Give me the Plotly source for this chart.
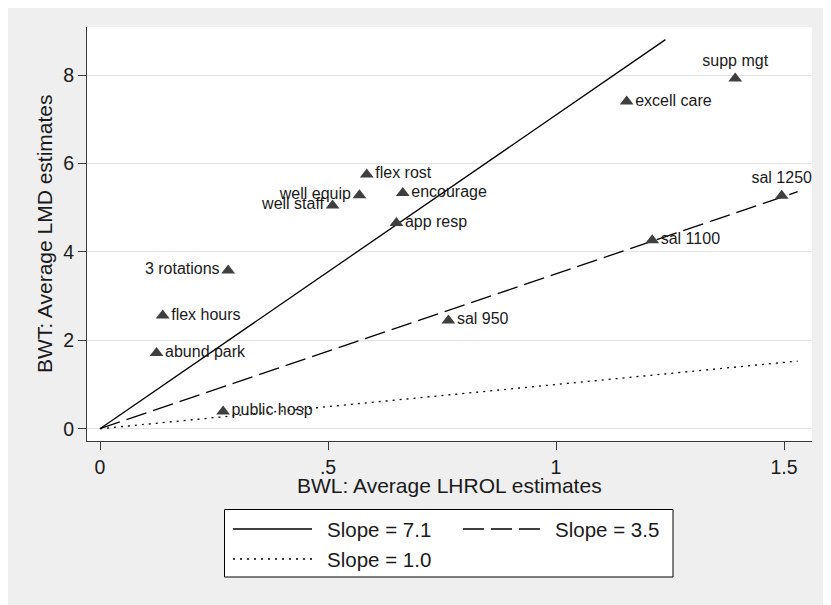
import plotly.graph_objects as go

# ---- data ----
labels = ["supp mgt", "excell care", "sal 1250", "sal 1100", "app resp", "encourage",
          "flex rost", "well equip", "well staff", "3 rotations", "flex hours",
          "abund park", "public hosp", "sal 950"]
bwl = [1.393, 1.155, 1.495, 1.211, 0.650, 0.664, 0.585, 0.569, 0.510, 0.281,
       0.1375, 0.124, 0.270, 0.764]
bwt = [7.92, 7.40, 5.27, 4.26, 4.65, 5.33, 5.75, 5.28, 5.05, 3.58, 2.56, 1.71, 0.39, 2.45]
label_pos = ["top center", "middle right", "top center", "middle right", "middle right",
             "middle right", "middle right", "middle left", "middle left", "middle left",
             "middle right", "middle right", "middle right", "middle right"]

line_names = ["Slope = 7.1", "Slope = 3.5", "Slope = 1.0"]
line_x = [[0, 1.24], [0, 1.53], [0, 1.53]]
line_y = [[0, 8.80], [0, 5.36], [0, 1.53]]
line_dash = ["solid", "21px,7px", "2px,5px"]

x_ticks = [0, 0.5, 1, 1.5]
x_ticktext = ["0", ".5", "1", "1.5"]
y_ticks = [0, 2, 4, 6, 8]

# ---- layout geometry (page pixels; the page body adds an 8px offset) ----
W, H = 823, 599
OX, OY = 8, 8
L, R, T, B = 87, 812, 27, 441
FONT = "Liberation Sans, Arial, Helvetica, sans-serif"


def px_x(px):
    return (px - L) / (R - L)


def px_y(py):
    return (B - py) / (B - T)


fig = go.Figure()

for nm, xs, ys, d in zip(line_names, line_x, line_y, line_dash):
    fig.add_trace(go.Scatter(x=xs, y=ys, mode="lines", name=nm, showlegend=False,
                             line=dict(color="black", width=1.3, dash=d),
                             hoverinfo="skip"))

fig.add_trace(go.Scatter(x=bwl, y=bwt, mode="markers+text", text=labels,
                         textposition=label_pos, showlegend=False,
                         marker=dict(symbol="triangle-up", size=12, color="#3f3f3f"),
                         textfont=dict(family=FONT, size=16, color="#1a1a1a")))

shapes = []
# legend box
shapes.append(dict(type="rect", xref="paper", yref="paper", x0=px_x(224.5), x1=px_x(673),
                   y0=px_y(577), y1=px_y(509.5), fillcolor="white",
                   line=dict(color="black", width=1)))
leg_items = [(233, 312, 529, 325), (463, 542, 529, 553), (233, 312, 559, 325)]
annotations = []
for (x0, x1, yy, tx), nm, d in zip(leg_items, line_names, line_dash):
    shapes.append(dict(type="line", xref="paper", yref="paper", x0=px_x(x0), x1=px_x(x1),
                       y0=px_y(yy), y1=px_y(yy), line=dict(color="black", width=1.3, dash=d)))
    annotations.append(dict(xref="paper", yref="paper", x=px_x(tx), y=px_y(yy), text=nm,
                            showarrow=False, xanchor="left", yanchor="middle",
                            font=dict(family=FONT, size=20.5, color="#1a1a1a")))

# axis titles
annotations.append(dict(xref="paper", yref="paper", x=px_x(449), y=px_y(485.5),
                        text="BWL: Average LHROL estimates", showarrow=False,
                        xanchor="center", yanchor="middle",
                        font=dict(family=FONT, size=21, color="#1a1a1a")))
annotations.append(dict(xref="paper", yref="paper", x=px_x(44), y=px_y(234),
                        text="BWT: Average LMD estimates", showarrow=False, textangle=-90,
                        xanchor="center", yanchor="middle",
                        font=dict(family=FONT, size=21, color="#1a1a1a")))

fig.update_layout(
    width=W, height=H, autosize=False,
    margin=dict(l=L - OX, r=W - (R - OX), t=T - OY, b=H - (B - OY), pad=0),
    paper_bgcolor="#efefef", plot_bgcolor="white",
    font=dict(family=FONT, color="#1a1a1a"),
    shapes=shapes, annotations=annotations,
    xaxis=dict(range=[-0.0285, 1.5614], tickvals=x_ticks, ticktext=x_ticktext,
               showgrid=False, zeroline=False, showline=True, linecolor="#3a3a3a",
               linewidth=1.2, ticks="outside", ticklen=8, tickcolor="#3a3a3a",
               tickfont=dict(family=FONT, size=19.5, color="#1a1a1a")),
    yaxis=dict(range=[-0.278, 9.086], tickvals=y_ticks,
               showgrid=True, gridcolor="#e4e4e4", gridwidth=1,
               zeroline=False, showline=True, linecolor="#3a3a3a",
               linewidth=1.2, ticks="outside", ticklen=8, tickcolor="#3a3a3a",
               tickfont=dict(family=FONT, size=19.5, color="#1a1a1a")),
)

fig.write_html("out.html")
